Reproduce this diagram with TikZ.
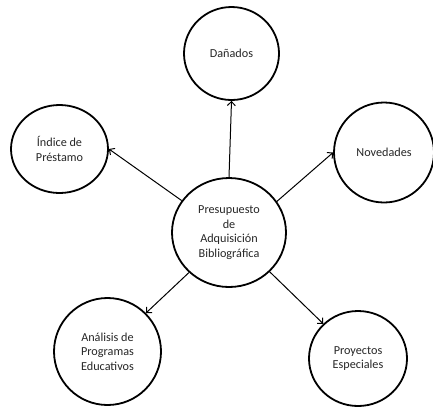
\documentclass[tikz,border=0pt]{standalone}
\usepackage{fontspec}
\setmainfont{Carlito}
\usetikzlibrary{shapes.geometric,arrows.meta}
\begin{document}
\begin{tikzpicture}[x=1pt,y=-1pt,
  bub/.style={ellipse,draw,line width=1.8pt,inner sep=0pt,align=center,
    font=\fontsize{12.2}{14.6}\selectfont,text=black!85},
  conn/.style={line width=1pt,-{Straight Barb[length=4pt,width=8pt]}}]
\useasboundingbox (0,0) rectangle (433,408);
\node[bub,minimum width=114pt,minimum height=109pt] (c) at (229,232.5)
  {Presupuesto\\de\\Adquisición\\Bibliográfica};
\node[bub,minimum width=95pt,minimum height=93pt] (d) at (231.5,53.5) {Dañados};
\node[bub,minimum width=97pt,minimum height=88pt] (i) at (59.5,149) {Índice de\\Préstamo};
\node[bub,minimum width=100pt,minimum height=100pt] (n) at (384,152.5) {Novedades};
\node[bub,minimum width=107pt,minimum height=107pt] (a) at (107.5,351.5) {Análisis de\\Programas\\Educativos};
\node[bub,minimum width=98pt,minimum height=95pt] (p) at (358,358.5) {Proyectos\\Especiales};
\draw[conn] (c.90) -- (d.-90);
\draw[conn] (c.146) -- (i.0);
\draw[conn] (c.33) -- (n.180);
\draw[conn] (c.225) -- (a.45);
\draw[conn] (c.-44) -- (p.135);
\end{tikzpicture}
\end{document}
